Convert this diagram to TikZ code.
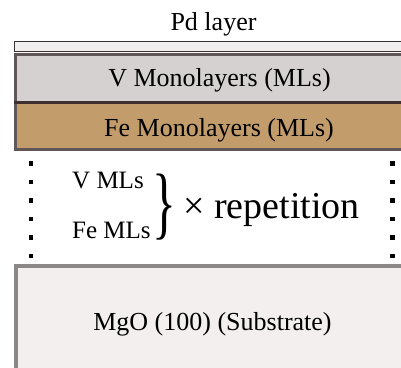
\documentclass[tikz,border=0pt]{standalone}
\usepackage{fontspec}
\setmainfont{Liberation Serif}
\newfontfamily\tms{Liberation Serif}
\definecolor{pdfill}{HTML}{F1EFEF}
\definecolor{pdline}{HTML}{3A3032}
\definecolor{vfill}{HTML}{D6D1D1}
\definecolor{layline}{HTML}{605658}
\definecolor{midline}{HTML}{3E2F31}
\definecolor{fefill}{HTML}{C29D6B}
\definecolor{mgofill}{HTML}{F3EFEE}
\definecolor{mgoline}{HTML}{8B8787}
\tikzset{
  lbl/.style={inner sep=0pt, anchor=base, font=\tms\fontsize{26}{30}\selectfont},
  small/.style={inner sep=0pt, anchor=base west, font=\tms\fontsize{25}{30}\selectfont},
  big/.style={inner sep=0pt, anchor=base west, font=\tms\fontsize{38}{44}\selectfont},
  dotsq/.style={fill=black, minimum size=4.2pt, inner sep=0pt, draw=none, rectangle},
}
\begin{document}
\begin{tikzpicture}[x=1pt,y=-1pt]
\useasboundingbox (0,0) rectangle (401,367);
\clip (0,0) rectangle (401,367);
\fill[white] (0,0) rectangle (401,367);
% Pd layer
\draw[pdline, line width=1.4pt, fill=pdfill] (14.7,41.7) rectangle (420,51.3);
% V layer
\draw[layline, line width=3pt, fill=vfill] (15.5,54.5) rectangle (420,102);
% Fe layer
\draw[layline, line width=3pt, fill=fefill] (15.5,102) rectangle (420,149.5);
\draw[midline, line width=3.5pt] (14,102.5) -- (420,102.5);
% MgO substrate
\draw[mgoline, line width=4pt, fill=mgofill] (16,266) rectangle (420,400);
% dotted sides
\foreach \i [count=\k] in {163.5,182,200.5,219,237.5,256}{
  \node[dotsq] (l\k) at (31,\i) {};
  \node[dotsq] (r\k) at (392.5,\i) {};
}
% texts
\node[lbl] (pd) at (213.5,30) {Pd layer};
\node[lbl] (vl) at (219.5,86) {V Monolayers (MLs)};
\node[lbl] (fe) at (219,136) {Fe Monolayers (MLs)};
\node[small] (vml) at (72,188) {V MLs};
\node[small] (feml) at (72,238) {Fe MLs};
\node[inner sep=0pt, anchor=center] (br) at (164,207) {\scalebox{0.62}[1]{\tms\fontsize{80}{80}\selectfont\}}};
\node[big] (rep) at (183,218) {× repetition};
\node[lbl] (mgo) at (212.5,330) {MgO (100) (Substrate)};
\end{tikzpicture}
\end{document}
